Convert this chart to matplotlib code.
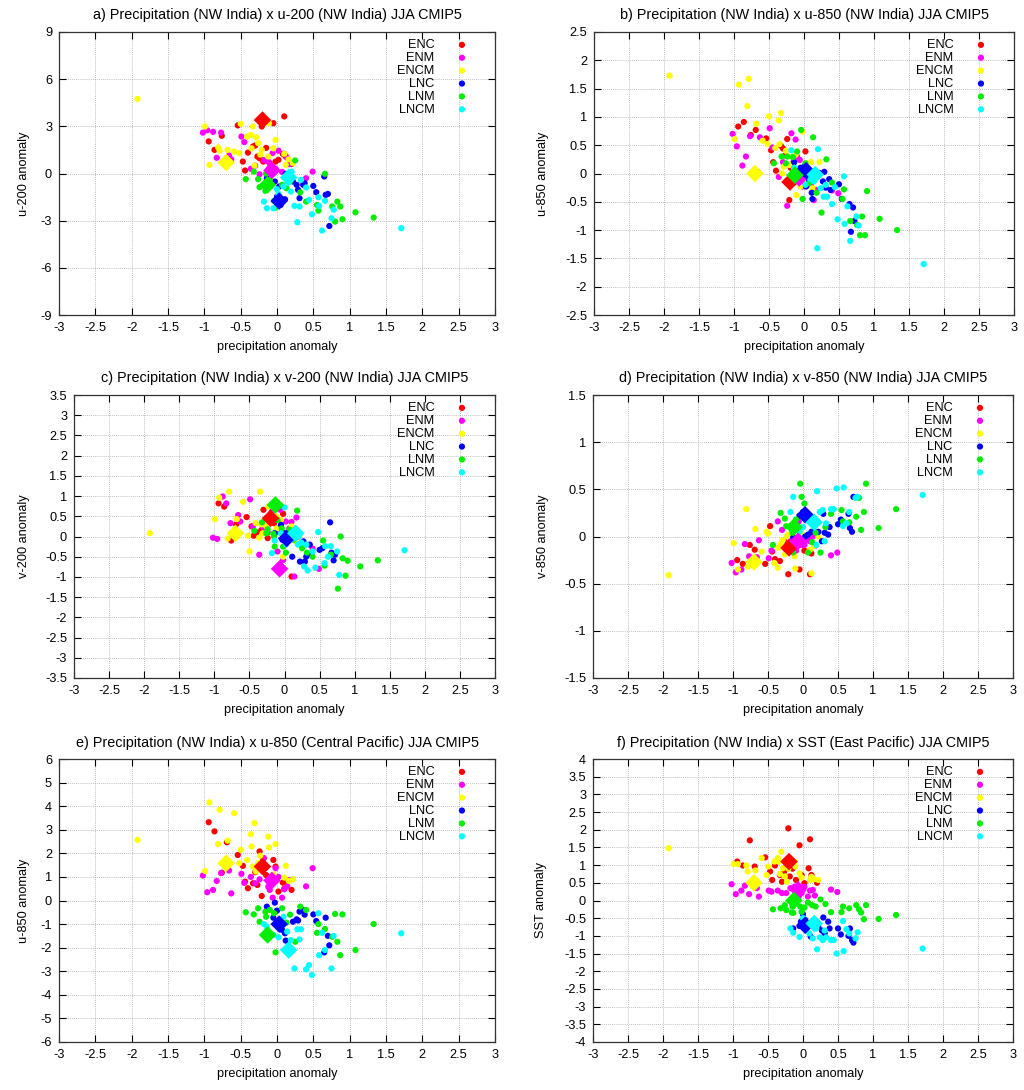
import numpy as np
import matplotlib
matplotlib.use('Agg')
import matplotlib.pyplot as plt
from matplotlib.ticker import FormatStrFormatter

plt.rcParams['font.family'] = ['Liberation Sans', 'DejaVu Sans']
plt.rcParams['axes.unicode_minus'] = False

# ---------------- data ----------------
groups = ['ENC', 'ENM', 'ENCM', 'LNC', 'LNM', 'LNCM']
colors = ['#ff0000', '#ff00ff', '#ffff00', '#0000ff', '#00ee00', '#00ffff']

# precipitation anomaly (same for every panel)
x_enc = [-0.94, -0.86, -0.76, -0.69, -0.54, -0.47, -0.44, -0.40, -0.33, -0.30, -0.27, -0.24,
         -0.21, -0.19, -0.15, -0.10, -0.05, -0.02, 0.02, 0.08, 0.10, 0.12, 0.20]
x_enm = [-1.02, -0.96, -0.88, -0.83, -0.77, -0.66, -0.63, -0.49, -0.45, -0.36, -0.30, -0.24,
         -0.18, -0.12, -0.10, -0.06, -0.02, 0.02, 0.07, 0.10, 0.14, 0.17, 0.40, 0.49]
x_encm = [-1.92, -0.99, -0.93, -0.81, -0.79, -0.68, -0.59, -0.52, -0.50, -0.41, -0.36, -0.35,
          -0.33, -0.31, -0.29, -0.26, -0.23, -0.21, -0.12, -0.11, -0.05, -0.02, 0.10, 0.12, 0.16, 0.22]
x_lnc = [-0.14, -0.05, -0.03, 0.0, 0.03, 0.05, 0.07, 0.11, 0.12, 0.22, 0.27, 0.29, 0.31, 0.36,
         0.38, 0.50, 0.54, 0.65, 0.67, 0.70, 0.72]
x_lnm = [-0.43, -0.32, -0.26, -0.24, -0.16, -0.15, -0.14, -0.10, -0.04, -0.02, 0.02, 0.07, 0.13,
         0.18, 0.25, 0.32, 0.40, 0.55, 0.57, 0.66, 0.76, 0.80, 0.83, 0.87, 0.90, 1.08, 1.33]
x_lncm = [-0.18, -0.14, -0.05, 0.0, 0.02, 0.09, 0.14, 0.19, 0.20, 0.24, 0.28, 0.31, 0.33, 0.40,
          0.44, 0.48, 0.57, 0.58, 0.62, 0.66, 0.75, 0.78, 1.71]

# ensemble values (big diamonds)
ens_x = [-0.2, -0.07, -0.7, 0.03, -0.13, 0.16]

# a) u-200 NW India
a_enc = [2.04, 1.5, 2.4, 1.0, 3.06, 0.76, 0.19, 1.33, 1.72, 1.78, 1.08, 0.97, 2.99, 0.76, 1.63,
         0.66, 3.2, 0.76, 0.87, 1.25, 3.63, 1.08, 0.6]
a_enm = [2.6, 2.75, 2.65, 1.0, 2.6, 1.15, 0.9, 2.35, 2.0, 0.3, 0.5, -0.05, 0.85, 0.75, 0.4, 1.3,
         0.3, 1.45, 0.1, 1.25, 1.0, 0.6, -0.3, 0.12]
a_encm = [4.75, 2.99, 0.55, 1.65, 1.45, 1.5, 1.4, 1.3, 3.16, 2.35, 2.46, 1.6, 2.99, 0.5, 2.31,
          1.93, 1.2, 1.5, 1.08, 3.2, 1.6, 2.14, 1.25, 0.55, 0.9, 0.65]
a_lnc = [-0.3, 0.08, -0.51, -1.47, -0.83, -2.0, -1.79, -1.64, -0.02, -0.51, -0.72, -1.04, -1.57,
         -0.72, -0.62, -0.79, -1.19, -0.19, -1.36, -1.3, -3.34]
a_lnm = [-0.36, 0.12, -0.36, -0.87, -1.1, 0.0, -0.68, -0.4, -1.74, -2.17, -1.42, -0.72, -0.94,
         -0.51, 0.83, -1.2, -1.79, -2.0, -2.36, -0.02, -2.1, -3.06, -1.79, -2.1, -2.91, -2.47, -2.8]
a_lncm = [-1.79, -2.21, -2.21, -1.0, -1.3, -0.83, -0.51, -1.15, 0.12, -2.06, -3.1, -2.1, -0.4,
          -0.89, -1.68, -2.59, -1.51, -2.06, -3.63, -1.74, -2.85, -2.3, -3.48]
a_ens = [3.4, 0.2, 0.7, -1.75, -0.72, -0.25]

# b) u-850 NW India
b_enc = [0.83, 0.91, 0.68, 0.77, 0.62, 0.41, 0.2, 0.05, 0.49, 0.44, 0.32, 0.61, -0.47, 0.1, 0.2,
         0.04, -0.14, 0.1, 0.39, -0.05, 0.0, -0.1, 0.0]
b_enm = [0.7, 0.48, 0.14, 0.3, 0.66, 0.03, 0.64, 0.8, 0.46, -0.06, 0.2, -0.57, 0.71, 0.6, 0.3,
         0.24, -0.23, -0.02, -0.14, -0.2, -0.47, -0.29, -0.3, -0.35]
b_encm = [1.73, 0.61, 1.57, 1.19, 1.67, 0.88, 0.58, 0.52, 1.01, 0.45, 0.94, 0.52, 1.07, 0.0, 0.12,
          0.4, 0.3, 0.15, 0.33, -0.38, -0.23, 0.74, 0.2, -0.26, 0.05, 0.2]
b_lnc = [0.2, 0.1, 0.07, 0.12, -0.23, 0.03, -0.11, -0.34, -0.45, 0.01, -0.14, 0.03, -0.25, -0.1,
         -0.29, -0.19, -0.45, -0.54, -1.03, -0.6, -0.84]
b_lnm = [0.18, 0.3, 0.18, 0.3, 0.29, 0.06, 0.1, 0.39, 0.77, -0.45, 0.18, -0.17, 0.64, -0.34, -0.69,
         0.25, -0.16, -0.45, -0.28, -0.84, -0.91, -1.09, -0.76, -1.09, -0.31, -0.8, -1.0]
b_lncm = [0.41, 0.1, -0.1, 0.05, -0.2, -0.1, -0.14, -1.32, 0.43, -0.26, -0.41, -0.2, -0.41, -0.54,
          -0.24, -0.81, -0.05, -0.89, -0.58, -1.19, -0.76, -0.92, -1.6]
b_ens = [-0.15, -0.08, 0.0, 0.05, -0.03, -0.02]

# c) v-200 NW India
c_enc = [0.82, 0.74, -0.1, 0.3, 0.48, 0.25, 0.02, 0.1, 0.16, 0.66, 0.41, -0.04, 0.49, 0.35, 0.33,
         0.2, 0.16, 0.56, 0.08, 0.2, -0.99, 0.1, 0.0]
c_enm = [-0.03, -0.06, 0.99, 0.82, 0.33, 0.53, 0.37, 0.92, 0.25, -0.45, 0.22, 0.1, 0.62, 0.12,
         -0.37, 0.66, -0.58, 0.37, 0.2, 0.36, -0.99, 0.47, -0.3, -0.8]
c_encm = [0.08, 0.43, 0.96, -0.05, 1.11, 0.43, 0.86, 0.02, -0.37, 0.33, -0.03, 1.11, 0.3, 0.08,
          0.4, 0.25, 0.74, 0.33, 0.5, 0.2, 0.41, -0.5, 0.25, 0.0, -0.12, 0.05]
c_lnc = [0.08, 0.29, -0.08, 0.08, -0.05, -0.12, 0.04, -0.5, 0.0, -0.62, -0.12, -0.62, -0.5, -0.2,
         -0.45, -0.33, -0.29, 0.35, -0.4, -0.59, -0.45]
c_lnm = [0.14, 0.35, 0.08, 0.18, 0.07, 0.0, -0.25, 0.41, 0.2, -0.25, -0.4, 0.17, -0.08, 0.64,
         -0.29, -0.4, -0.5, -0.1, -0.72, -0.45, -1.29, 0.0, -0.54, -0.97, -0.6, -0.74, -0.59]
c_lncm = [-0.41, -0.1, 0.08, 0.72, -0.2, -0.08, 0.05, -0.2, 0.0, -0.15, -0.74, -0.2, -0.84, -0.37,
          -0.77, 0.11, -0.66, -0.24, -0.5, -0.24, -0.37, -0.95, -0.34]
c_ens = [0.45, -0.8, 0.08, -0.05, 0.78, 0.08]

# d) v-850 NW India
d_enc = [-0.25, -0.29, -0.09, -0.14, -0.29, 0.11, -0.16, -0.24, -0.26, -0.1, -0.04, -0.14, -0.4,
         -0.09, -0.12, -0.06, -0.35, -0.05, -0.15, 0.0, -0.4, -0.18, 0.04]
d_enm = [-0.28, -0.38, -0.35, -0.08, -0.21, -0.22, -0.04, -0.23, -0.15, 0.16, 0.07, -0.1, -0.05,
         -0.12, -0.15, 0.16, -0.09, -0.09, -0.04, -0.05, 0.0, -0.1, -0.2, -0.17]
d_encm = [-0.41, -0.07, -0.35, 0.29, -0.32, 0.08, -0.16, 0.05, 0.03, -0.28, -0.33, -0.12, -0.1,
          -0.07, -0.04, -0.19, 0.0, 0.02, -0.21, -0.34, -0.05, 0.03, -0.14, -0.39, -0.1, 0.0]
d_lnc = [-0.01, 0.22, -0.04, 0.26, 0.0, 0.2, 0.02, 0.16, 0.05, 0.05, -0.05, 0.24, 0.04, 0.02, 0.1,
         0.13, 0.18, 0.24, 0.09, 0.05, 0.42]
d_lnm = [-0.09, 0.25, 0.19, 0.11, 0.11, 0.04, -0.17, 0.18, 0.56, 0.42, 0.35, -0.17, -0.06, 0.04,
         -0.17, 0.1, 0.24, 0.28, 0.16, 0.15, 0.21, 0.41, 0.07, 0.26, 0.56, 0.09, 0.29]
d_lncm = [0.26, 0.42, 0.05, 0.1, 0.23, 0.21, 0.15, -0.09, 0.48, 0.26, 0.28, -0.05, 0.14, 0.29,
          0.29, 0.51, 0.11, 0.52, 0.14, 0.26, 0.41, 0.42, 0.44]
d_ens = [-0.12, -0.05, -0.27, 0.23, 0.1, 0.15]

# e) u-850 Central Pacific
e_enc = [3.32, 2.93, 1.18, 2.47, 1.93, 1.47, 0.8, 0.52, 0.73, 1.2, 0.66, 2.08, 0.19, 1.75, 1.08,
         0.73, 1.72, 1.44, 0.38, 0.76, 0.5, 0.8, 0.45]
e_enm = [1.06, 0.35, 0.45, 0.83, 1.16, 1.27, 0.3, 1.13, 0.75, 1.0, 0.73, 0.9, 1.8, 0.58, 0.45,
         0.12, 1.37, 1.0, 0.12, 0.48, 0.6, 0.87, 0.6, 1.37]
e_encm = [2.57, 1.25, 4.16, 2.39, 3.85, 2.54, 3.7, 1.58, 2.15, 1.72, 2.81, 2.29, 1.44, 3.28, 1.23,
          1.58, 1.9, 1.44, 2.71, 2.25, 1.1, 2.39, 0.97, 1.47, 0.83, 0.9]
e_lnc = [-0.26, -0.73, -0.09, -0.43, -0.83, -1.0, -1.25, -1.39, -1.7, -0.9, -0.8, -0.85, -0.47,
         -0.4, -0.6, -0.59, -0.87, -2.2, -0.73, -1.5, -1.9]
e_lnm = [-0.5, -0.59, -0.33, -0.9, -0.48, -0.69, -1.39, -0.4, -0.54, -2.2, -0.94, -0.33, -0.94,
         -0.6, -1.75, -0.26, -0.4, -1.37, -1.0, -1.21, -1.54, -0.57, -1.75, -2.32, -0.59, -2.1, -1.0]
e_lncm = [-1.0, -1.11, -1.46, -0.97, -1.56, -0.69, -1.32, -1.68, -2.17, -2.88, -1.22, -1.65, -1.22,
          -2.92, -2.74, -3.16, -0.54, -2.32, -1.37, -2.1, -2.88, -1.5, -1.39]
e_ens = [1.44, 0.85, 1.58, -1.0, -1.46, -2.1]

# f) SST East Pacific
f_enc = [1.1, 0.99, 1.7, 0.96, 1.22, 0.82, 0.58, 0.99, 0.72, 0.53, 0.82, 0.96, 2.04, 0.68, 0.9,
         0.58, 1.56, 0.72, 0.49, 0.91, 1.73, 0.72, 0.5]
f_enm = [0.46, 0.18, 0.28, 0.42, 0.18, 0.35, 0.11, 0.28, 0.25, 0.28, 0.21, 0.21, 0.35, 0.39, 0.28,
         0.11, 0.21, 0.39, 0.11, 0.28, 0.3, 0.14, 0.31, 0.24]
f_encm = [1.48, 1.03, 1.03, 0.99, 0.82, 0.85, 1.2, 0.72, 0.96, 1.1, 1.2, 1.1, 0.75, 1.38, 0.91,
          0.68, 0.53, 0.9, 1.1, 0.96, 0.77, 0.65, 0.58, 0.67, 0.6, 0.58]
f_lnc = [-0.79, -0.72, -0.6, -0.39, -0.55, -0.64, -0.74, -1.02, -0.7, -0.75, -0.85, -0.48, -0.93,
         -0.6, -0.79, -0.79, -0.96, -1.0, -0.79, -1.12, -1.19]
f_lnm = [-0.25, -0.22, -0.13, -0.27, -0.34, -0.17, -0.35, -0.06, -0.17, -0.32, -0.2, -0.06, -0.13,
         -0.17, 0.03, -0.1, -0.33, -0.33, -0.17, -0.22, -0.13, -0.25, -0.34, -0.53, -0.13, -0.52, -0.41]
f_lncm = [-0.79, -0.91, -1.03, -0.5, -0.79, -0.93, -1.07, -0.79, -1.38, -1.04, -1.12, -0.85, -1.04,
          -1.12, -1.12, -1.5, -0.58, -1.43, -0.81, -0.93, -1.07, -0.9, -1.36]
f_ens = [1.1, 0.3, 0.5, -0.7, 0.0, -0.65]

titles = ['a) Precipitation (NW India) x u-200 (NW India) JJA CMIP5',
          'b) Precipitation (NW India) x u-850 (NW India) JJA CMIP5',
          'c) Precipitation (NW India) x v-200 (NW India) JJA CMIP5',
          'd) Precipitation (NW India) x v-850 (NW India) JJA CMIP5',
          'e) Precipitation (NW India) x u-850 (Central Pacific) JJA CMIP5',
          'f) Precipitation (NW India) x SST (East Pacific) JJA CMIP5']
ylabels = ['u-200 anomaly', 'u-850 anomaly', 'v-200 anomaly', 'v-850 anomaly',
           'u-850 anomaly', 'SST anomaly']
ylims = [(-9, 9, 3), (-2.5, 2.5, 0.5), (-3.5, 3.5, 0.5), (-1.5, 1.5, 0.5), (-6, 6, 1), (-4, 4, 0.5)]

xs = [x_enc, x_enm, x_encm, x_lnc, x_lnm, x_lncm]
panels = [[a_enc, a_enm, a_encm, a_lnc, a_lnm, a_lncm],
          [b_enc, b_enm, b_encm, b_lnc, b_lnm, b_lncm],
          [c_enc, c_enm, c_encm, c_lnc, c_lnm, c_lncm],
          [d_enc, d_enm, d_encm, d_lnc, d_lnm, d_lncm],
          [e_enc, e_enm, e_encm, e_lnc, e_lnm, e_lncm],
          [f_enc, f_enm, f_encm, f_lnc, f_lnm, f_lncm]]
ens = [a_ens, b_ens, c_ens, d_ens, e_ens, f_ens]

# ---------------- layout (pixels: left, top, right, bottom) ----------------
W, H = 1024, 1090
boxes = [(59, 32, 495, 315), (594, 32, 1014, 315),
         (74, 395, 495, 678), (593, 395, 1013, 678),
         (59, 759, 495, 1042), (593, 759, 1013, 1042)]
ylab_px = [30, 549, 30, 549, 30, 547]
fz = 9.2
fz_title = 10.4

fig = plt.figure(figsize=(W / 100, H / 100), dpi=100)

for k in range(6):
    l, t, r, b = boxes[k]
    ax = fig.add_axes([l / W, 1 - b / H, (r - l) / W, (b - t) / H])

    for g in range(6):
        ax.scatter(xs[g], panels[k][g], s=20, color=colors[g], edgecolors='none',
                   label=groups[g], zorder=3)
    for g in range(6):
        ax.scatter(ens_x[g], ens[k][g], s=80, marker='D', color=colors[g],
                   edgecolors='none', zorder=4)

    y0, y1, dy = ylims[k]
    ax.set_xlim(-3, 3)
    ax.set_ylim(y0, y1)
    ax.set_xticks(np.arange(-3, 3.01, 0.5))
    ax.set_yticks(np.arange(y0, y1 + dy / 2, dy))
    ax.xaxis.set_major_formatter(FormatStrFormatter('%g'))
    ax.yaxis.set_major_formatter(FormatStrFormatter('%g'))
    ax.tick_params(direction='in', top=True, right=True, length=5, width=0.8,
                   labelsize=fz, pad=5)
    ax.grid(True, color='#a8a8a8', linestyle=(0, (1, 1.5)), linewidth=0.6, zorder=0)
    ax.set_axisbelow(True)
    for sp in ax.spines.values():
        sp.set_color('#333333')
        sp.set_linewidth(0.9)

    ax.set_title(titles[k], fontsize=fz_title, pad=9)
    ax.set_xlabel('precipitation anomaly', fontsize=fz, labelpad=5)
    ax.set_ylabel(ylabels[k], fontsize=fz)
    ax.yaxis.set_label_coords((ylab_px[k] - l) / (r - l), 0.5)

    ax.legend(loc='upper right', bbox_to_anchor=(1 - 19 / (r - l), 1 + 3 / (b - t)),
              markerfirst=False, frameon=False, fontsize=fz,
              handletextpad=1.85, handlelength=0.6, labelspacing=0.07,
              borderaxespad=0.4, scatterpoints=1)

fig.savefig('out.png', dpi=100)
